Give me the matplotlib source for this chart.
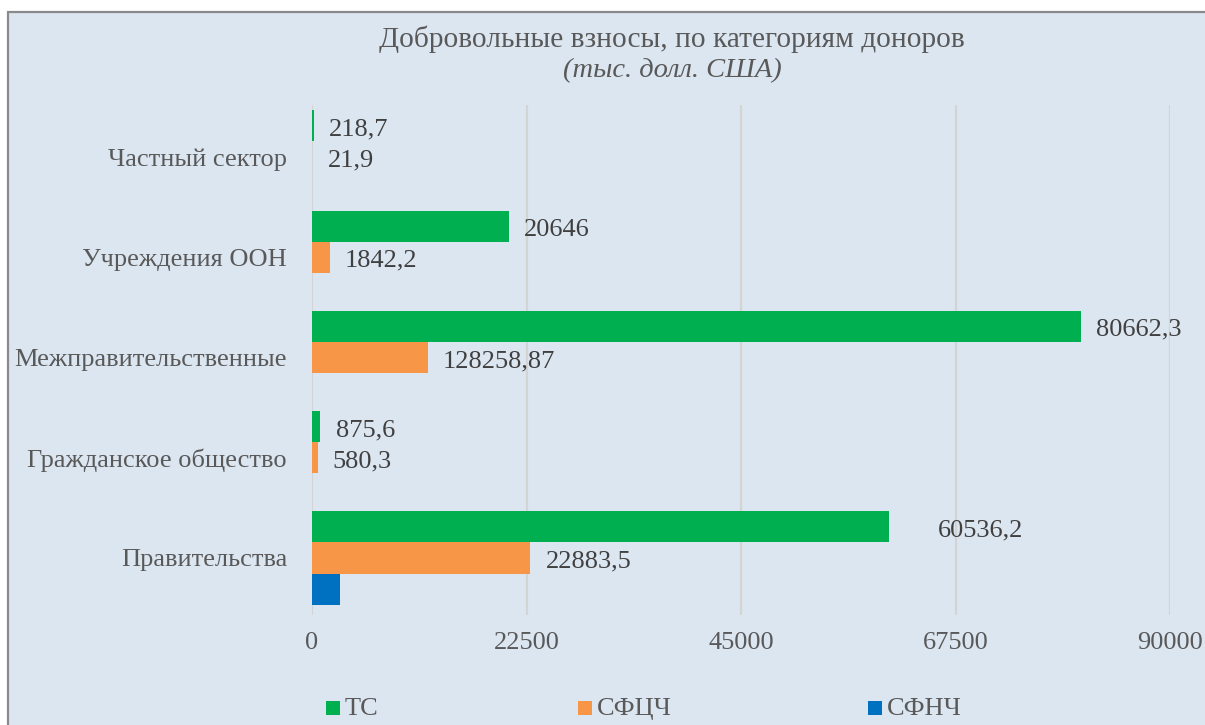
import matplotlib
matplotlib.use("Agg")
import matplotlib.pyplot as plt
from matplotlib.patches import Rectangle

plt.rcParams['font.family'] = ['Liberation Serif', 'DejaVu Serif']

# ---- data ----
categories = ['Правительства', 'Гражданское общество', 'Межправительственные',
              'Учреждения ООН', 'Частный сектор']
series_names = ['ТС', 'СФЦЧ', 'СФНЧ']
ts_values = [60536.2, 875.6, 80662.3, 20646, 218.7]
sfcc_values = [22883.5, 580.3, 12140, 1842.2, 21.9]
sfnc_values = [2900, 0, 0, 0, 0]
ts_labels = ['60536,2', '875,6', '80662,3', '20646', '218,7']
sfcc_labels = ['22883,5', '580,3', '128258,87', '1842,2', '21,9']
sfnc_labels = ['', '', '', '', '']
x_ticks = [0, 22500, 45000, 67500, 90000]
x_ticklabels = ['0', '22500', '45000', '67500', '90000']

colors = ['#00b050', '#f79646', '#0070c0']
bg = '#dce6f1'
W, H = 1205, 725

fig = plt.figure(figsize=(W / 100, H / 100), dpi=100)
fig.patch.set_facecolor('white')

# chart area frame (extends beyond right/bottom edge)
fig.patches.append(Rectangle((8 / W, -0.2), 1.2, 1 - 12 / H + 0.2,
                             transform=fig.transFigure, facecolor=bg,
                             edgecolor='#8a8a8a', linewidth=1.6, zorder=-5))

ax = fig.add_axes([312 / W, 1 - 615 / H, 858 / W, 510 / H])
ax.set_zorder(1)
ax.set_facecolor('none')
ax.set_xlim(0, 90000)
ax.set_ylim(-0.569, 4.519)

h = 0.31
offsets = [h, 0, -h]
all_vals = [ts_values, sfcc_values, sfnc_values]
all_labels = [ts_labels, sfcc_labels, sfnc_labels]
ypos = list(range(len(categories)))

for s, (vals, labs, off, c) in enumerate(zip(all_vals, all_labels, offsets, colors)):
    ys = [y + off for y in ypos]
    ax.barh(ys, vals, height=h, color=c, edgecolor='none', zorder=3)
    for i, (y, v, lab) in enumerate(zip(ys, vals, labs)):
        if not lab:
            continue
        dx = 11
        if s == 0 and i == 0:
            dx = 35  # label manually moved in the original
        ax.annotate(lab, xy=(v, y), xytext=(dx, -2.5), textcoords='offset points',
                    ha='left', va='center', fontsize=19, color='#404040', zorder=4)

ax.set_xticks(x_ticks)
ax.set_xticklabels(x_ticklabels)
ax.set_yticks(ypos)
ax.set_yticklabels(categories)
ax.tick_params(axis='x', length=0, pad=12, labelsize=19, labelcolor='#595959')
ax.tick_params(axis='y', length=0, pad=18, labelsize=19, labelcolor='#595959')
ax.grid(axis='x', color='#d4d4d4', linewidth=1.6, zorder=1)
ax.set_axisbelow(True)
for sp in ax.spines.values():
    sp.set_visible(False)

# titles
fig.text(672 / W, 1 - 39 / H, 'Добровольные взносы, по категориям доноров',
         ha='center', va='center', fontsize=21.2, color='#595959')
fig.text(672 / W, 1 - 71 / H, '(тыс. долл. США)', ha='center', va='center',
         fontsize=20.5, color='#595959', style='italic')

# legend
legend_x = [326, 578, 868]
for name, c, lx in zip(series_names, colors, legend_x):
    fig.patches.append(Rectangle((lx / W, 1 - 715 / H), 14 / W, 14 / H,
                                 transform=fig.transFigure, facecolor=c,
                                 edgecolor='none', zorder=2))
    fig.text((lx + 19) / W, 1 - 709 / H, name, ha='left', va='center',
             fontsize=19, color='#595959')

fig.savefig('out.png', dpi=100, facecolor='white')
